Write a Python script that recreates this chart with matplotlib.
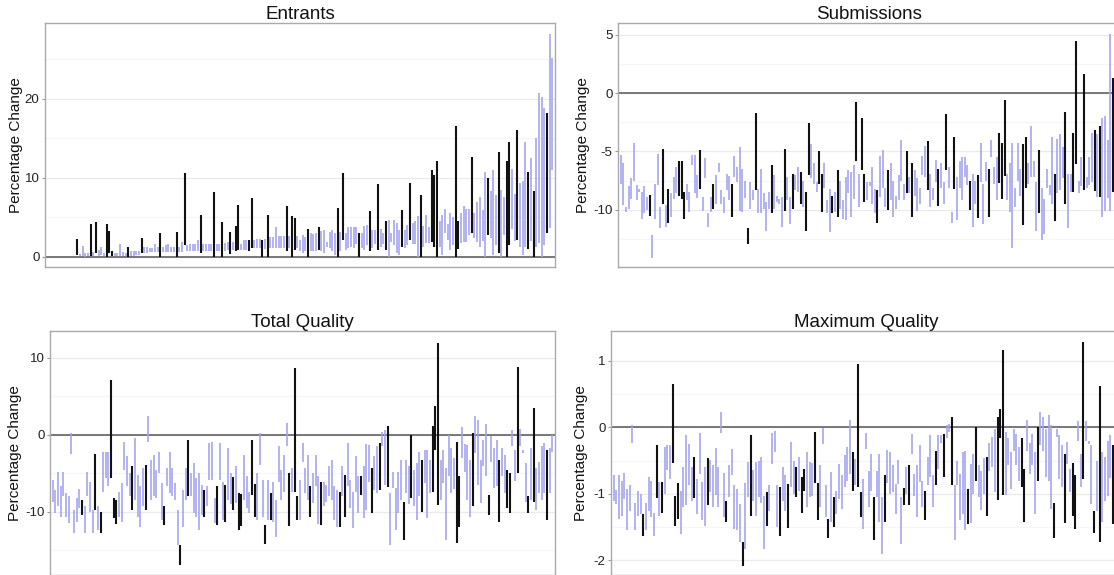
import matplotlib
matplotlib.use("Agg")
import matplotlib.pyplot as plt
from matplotlib.ticker import FixedLocator

plt.rcParams["font.family"] = ["Liberation Sans", "DejaVu Sans"]
plt.rcParams["axes.unicode_minus"] = False

# contests whose change is significant (drawn in black), same order in every panel
highlight = [11, 16, 18, 22, 23, 24, 30, 35, 42, 48, 51, 57, 62, 65, 68, 70, 71, 75, 76,
             80, 82, 89, 91, 92, 97, 101, 108, 110, 116, 120, 123, 126, 132, 135, 139,
             143, 144, 145, 152, 153, 158, 164, 168, 171, 172, 175, 179, 181, 186]

entrants_hi = [0, 0, 0, 0, 0, 0, 0, 0, 0, 0, 0,
               2.3, 0.4, 1.4, 0.5, 0.5, 4.2, 0.6, 4.4, 0.9, 1.3, 0.5, 4.2, 3.3, 0.7, 0.5, 0.5, 1.7, 0.6, 0.5,
               1.2, 0.7, 0.7, 0.8, 0.8, 2.4, 1.3, 1.3, 1.1, 1.1, 1.6, 1.3, 3.0, 1.2, 1.5, 1.7, 1.3, 1.3, 3.1, 1.3,
               1.9, 10.6, 1.5, 1.6, 1.6, 1.6, 2.1, 5.3, 1.6, 1.7, 1.7, 1.7, 8.2, 1.7, 1.7, 4.4, 1.8, 1.9, 3.2, 1.9,
               3.9, 6.6, 1.6, 2.2, 2.2, 2.2, 7.5, 2.2, 2.3, 2.3, 2.2, 2.3, 5.3, 2.5, 2.5, 3.8, 2.7, 2.7, 2.6, 6.4,
               2.7, 5.2, 4.9, 2.7, 2.2, 2.8, 2.5, 3.6, 3.0, 2.9, 3.0, 3.8, 3.3, 3.4, 1.9, 3.1, 3.4, 3.0, 6.2, 3.2,
               10.6, 3.0, 3.8, 3.8, 3.8, 3.8, 3.0, 3.0, 3.9, 4.1, 5.8, 3.4, 3.4, 9.2, 3.6, 3.0, 4.6, 4.7, 3.0, 4.7,
               4.3, 3.4, 6.0, 3.4, 4.0, 9.3, 4.3, 4.5, 5.2, 7.8, 3.9, 5.3, 3.8, 11.0, 10.4, 12.1, 4.6, 5.3, 6.1, 4.2,
               5.6, 5.0, 16.6, 4.6, 5.5, 6.4, 6.1, 6.1, 12.7, 5.5, 7.0, 7.6, 6.0, 10.7, 10.0, 8.3, 11.0, 7.8, 13.3, 8.5,
               7.6, 12.1, 14.5, 11.1, 8.0, 16.1, 9.4, 9.6, 14.5, 10.7, 12.5, 8.4, 15.0, 20.7, 20.2, 18.9, 18.2, 28.2, 25.2]
entrants_lo = [0, 0, 0, 0, 0, 0, 0, 0, 0, 0, 0,
               0.3, 0.1, 0.1, 0.0, 0.1, 0.1, 0.1, 0.5, 0.1, 0.25, 0.1, 0.0, 0.5, 0.1, 0.1, 0.1, 0.1, 0.1, 0.1,
               0.0, 0.1, 0.1, 0.2, 0.2, 0.5, 0.5, 0.5, 0.6, 0.6, 0.6, 0.6, 0.0, 0.6, 0.6, 0.6, 0.6, 0.6, 0.0, 0.6,
               0.6, 1.5, 0.7, 0.7, 0.8, 0.8, 0.8, 0.5, 0.7, 0.7, 0.7, 0.7, 0.0, 0.8, 0.8, 0.0, 0.8, 0.9, 0.4, 0.9,
               0.7, 0.9, 0.9, 0.9, 0.9, 0.7, 1.1, 1.1, 1.1, 1.1, 0.0, 1.0, 0.0, 1.1, 1.1, 1.1, 1.1, 1.1, 1.1, 0.7,
               1.1, 0.0, 0.9, 1.1, 0.7, 0.5, 0.8, 0.0, 0.7, 0.7, 0.7, 0.9, 0.7, 0.5, 1.3, 1.1, 0.7, 0.25, 0.0, 0.8,
               2.2, 0.9, 1.1, 1.3, 1.1, 1.7, 0.0, 1.1, 0.9, 1.5, 0.7, 1.1, 1.7, 0.9, 1.3, 1.7, 0.9, 0.0, 1.9, 1.5,
               0.5, 0.25, 1.3, 1.1, 1.5, 2.1, 1.6, 1.7, 0.0, 0.0, 1.3, 1.8, 1.8, 1.9, 1.3, 0.0, 1.3, 0.3, 3.0, 2.2,
               0.9, 1.5, 0.0, 1.0, 1.8, 1.9, 1.9, 2.8, 3.0, 2.4, 1.9, 1.3, 2.0, 0.0, 2.8, 2.4, 0.3, 1.5, 0.5, 0.0,
               2.8, 0.0, 1.5, 3.5, 2.0, 2.2, 1.3, 0.3, 1.2, 1.0, 2.0, 0.0, 1.3, 1.8, 0.0, 1.5, 3.0, 3.7, 11.0]

submissions_hi = [-5.3, -6.0, -9.8, -8.0, -7.3, -4.3, -7.9, -8.2, -8.5, -8.0, -8.9, -8.7, -12.2, -7.8, -5.2, -9.8,
                  -4.8, -9.6, -8.2, -8.6, -7.2, -6.3, -5.8, -5.8, -8.5, -7.8, -8.5, -5.3, -5.3, -7.0, -4.9, -8.9,
                  -5.6, -10.3, -8.9, -7.8, -7.0, -6.0, -8.3, -8.9, -6.9, -7.1, -7.8, -5.4, -6.3, -4.6, -6.5, -7.5,
                  -11.6, -7.6, -8.3, -1.7, -8.2, -6.5, -8.6, -9.3, -8.5, -6.2, -7.0, -8.8, -9.1, -8.9, -4.8, -7.2,
                  -8.9, -6.9, -7.0, -6.3, -6.8, -7.5, -8.5, -2.6, -4.4, -6.0, -7.6, -5.0, -6.9, -6.0, -9.2, -8.2,
                  -8.8, -8.5, -6.6, -7.5, -9.2, -7.2, -6.6, -6.8, -6.2, -0.8, -6.9, -2.1, -6.9, -7.6, -7.6, -6.3,
                  -8.2, -8.3, -5.4, -4.9, -8.1, -6.6, -6.0, -7.5, -8.8, -7.0, -4.0, -7.8, -5.0, -7.2, -6.0, -6.6,
                  -7.3, -8.1, -5.4, -4.5, -4.1, -6.9, -8.1, -5.7, -6.5, -6.0, -7.6, -1.8, -6.3, -10.2, -3.8, -7.2,
                  -5.8, -5.5, -5.5, -6.2, -7.5, -6.9, -7.5, -7.0, -4.3, -7.8, -5.9, -6.5, -4.0, -6.3, -5.5, -3.4,
                  -4.3, -0.6, -6.9, -6.0, -4.3, -8.1, -4.3, -6.5, -4.4, -3.8, -6.0, -2.8, -5.8, -7.6, -4.9, -8.1,
                  -9.1, -6.5, -7.9, -3.8, -6.9, -3.9, -3.5, -4.6, -1.6, -6.9, -6.9, -3.4, 4.5, -7.5, -5.5, 1.6,
                  -7.2, -5.5, -3.4, -3.2, -3.5, -2.8, -2.1, -2.0, -4.0, 5.1, 1.3, -3.0, -4.0]
submissions_lo = [-7.8, -9.6, -10.2, -9.9, -9.1, -7.5, -9.2, -8.5, -10.8, -10.3, -10.0, -10.5, -14.1, -10.8, -7.9, -11.6,
                  -9.5, -11.5, -11.1, -10.6, -9.1, -8.6, -8.8, -9.1, -10.8, -9.2, -10.2, -6.2, -8.6, -9.0, -8.2, -10.1,
                  -7.3, -11.5, -10.2, -9.9, -9.5, -6.8, -9.5, -10.3, -8.3, -9.2, -10.6, -7.2, -7.6, -10.1, -10.2, -9.0,
                  -12.9, -9.9, -9.2, -8.3, -10.3, -10.3, -9.9, -11.8, -9.9, -10.3, -9.9, -9.3, -9.5, -11.5, -10.1, -9.2,
                  -11.2, -9.9, -8.3, -8.5, -9.5, -9.8, -11.8, -7.0, -7.3, -7.8, -8.5, -7.8, -10.2, -8.1, -10.3, -11.9,
                  -10.3, -10.2, -10.6, -9.9, -10.8, -10.9, -8.6, -10.6, -9.1, -5.8, -9.8, -6.6, -9.3, -9.2, -8.0, -9.5,
                  -10.3, -11.1, -8.9, -8.1, -9.8, -10.0, -9.2, -10.6, -9.9, -9.2, -7.5, -9.2, -8.6, -8.6, -10.6, -8.8,
                  -10.1, -9.5, -7.0, -7.2, -8.3, -9.8, -9.2, -7.6, -9.7, -8.1, -9.5, -6.6, -8.1, -11.1, -8.2, -10.9,
                  -8.1, -9.2, -7.2, -7.9, -10.0, -11.5, -9.5, -10.7, -7.6, -11.2, -7.5, -10.6, -5.5, -7.8, -9.2, -7.7,
                  -9.1, -7.1, -9.2, -10.2, -13.3, -9.8, -7.5, -8.8, -11.3, -8.1, -7.8, -7.2, -7.2, -11.8, -10.3, -12.6,
                  -12.1, -8.1, -8.7, -9.5, -11.0, -8.6, -8.3, -7.3, -9.5, -11.6, -8.5, -8.5, -6.1, -8.6, -8.0, -8.3,
                  -8.1, -7.9, -7.6, -8.4, -8.9, -8.9, -10.6, -10.1, -9.0, -10.1, -8.5, -9.0, -8.0]

total_hi = [-5.8, -7.2, -4.8, -6.7, -4.8, -7.5, -7.9, 0.3, -9.7, -8.2, -7.0, -8.4, -9.3, -4.8, -6.1, -9.7,
            -2.5, -9.2, -10.0, -2.2, -2.2, -2.2, 7.1, -8.2, -8.4, -7.4, -6.3, -0.9, -2.8, -5.0, -4.1, -0.4,
            -5.2, -6.7, -4.3, -3.9, 2.4, -3.2, -2.6, -4.5, -2.2, -6.3, -9.3, -4.3, -2.2, -4.3, -6.2, -9.7,
            -14.3, -7.1, -4.3, -0.6, -5.0, -3.7, -5.6, -5.0, -6.5, -7.2, -6.7, -1.1, -0.9, -8.2, -6.6, -1.1,
            -6.1, -6.5, -1.7, -5.0, -5.5, -4.1, -7.5, -7.7, -2.6, -5.4, -7.4, -0.7, -6.4, -5.0, 0.2, -5.8,
            -11.7, -5.8, -7.6, -6.1, -8.4, -1.4, -4.5, -2.6, 1.5, -4.9, -4.3, 8.7, -8.0, -5.8, -1.1, -4.3,
            -2.6, -6.7, -5.0, -2.6, -5.4, -6.1, -6.1, -6.5, -4.1, -3.3, -6.7, -7.1, -7.4, -4.0, -5.2, -1.0,
            -5.8, -7.4, -2.8, -5.4, -5.4, -4.1, -1.2, -1.3, -4.3, -2.8, -1.5, -1.0, 0.4, 0.7, 1.2, -7.5,
            -4.8, -6.9, -4.8, -3.2, -8.7, -3.2, -4.0, 0.0, -4.5, -3.7, -2.2, -3.2, -1.9, -1.9, -3.2, 1.1,
            3.8, 12.0, -3.2, -1.9, -4.3, 0.0, -1.7, -3.0, -0.9, -5.4, 1.0, -1.2, -1.3, -3.2, 0.2, 2.4,
            1.9, -3.3, -0.6, 1.4, -7.8, -0.2, -1.7, -0.6, -3.2, -1.7, -2.6, -4.6, -5.0, 0.7, -2.0, 8.8,
            0.8, -1.9, -3.7, -8.0, -1.7, 3.5, -4.3, -3.5, -1.5, -1.0, -1.9, -1.7, 0.0]
total_lo = [-8.7, -10.2, -9.3, -10.7, -8.0, -10.6, -11.4, -2.5, -12.8, -11.3, -9.5, -10.4, -12.7, -8.0, -10.0, -12.7,
            -9.7, -12.3, -12.8, -7.4, -5.6, -6.7, -5.6, -10.8, -11.6, -10.6, -11.3, -4.5, -6.7, -8.0, -9.8, -8.4,
            -10.6, -11.9, -9.3, -9.7, -0.9, -8.4, -8.0, -8.2, -5.0, -11.0, -11.7, -6.7, -7.6, -8.0, -8.4, -14.3,
            -16.9, -11.9, -8.4, -7.9, -8.0, -10.2, -10.6, -12.3, -10.4, -10.7, -9.3, -5.8, -5.8, -11.5, -11.7, -5.8,
            -11.0, -11.3, -8.4, -9.0, -9.7, -8.9, -12.3, -11.8, -8.4, -9.5, -10.2, -7.8, -10.7, -11.0, -3.9, -10.6,
            -14.2, -11.0, -11.0, -11.3, -13.3, -6.1, -8.4, -7.4, -1.5, -11.8, -7.4, -7.4, -11.0, -11.0, -3.5, -7.6,
            -8.4, -10.6, -8.9, -6.7, -11.6, -11.7, -9.3, -8.7, -8.0, -8.4, -11.0, -11.9, -11.9, -8.0, -10.6, -6.7,
            -9.5, -12.1, -7.4, -10.2, -7.8, -10.8, -9.7, -6.1, -10.2, -7.1, -7.6, -7.1, -1.5, -6.5, -6.8, -14.3,
            -6.9, -12.3, -10.2, -8.4, -13.6, -7.6, -9.0, -8.2, -9.3, -11.0, -8.0, -10.0, -6.3, -10.8, -7.6, -7.4,
            -1.9, -9.1, -8.4, -6.3, -13.6, -5.4, -7.6, -7.0, -14.0, -11.9, -3.0, -4.8, -8.4, -10.6, -9.3, -2.4,
            -6.5, -8.9, -4.1, -5.4, -10.4, -3.5, -6.9, -6.7, -11.3, -5.4, -7.6, -9.5, -10.2, -1.5, -6.0, -4.9,
            -1.5, -2.4, -8.7, -10.2, -8.4, -8.7, -9.7, -7.5, -8.4, -7.6, -11.0, -7.6, -2.2]

maximum_hi = [-0.72, -0.94, -0.71, -0.81, -0.69, -0.92, -0.87, 0.03, -1.14, -0.96, -1.00, -1.30, -1.13, -0.74,
              -0.80, -1.28, -0.26, -0.82, -0.82, -0.29, -0.26, -0.27, 0.65, -1.03, -0.84, -0.95, -0.59, -0.12,
              -0.25, -0.60, -0.44, -0.77, -0.09, -0.82, -0.60, -0.46, -0.49, -0.57, -0.31, -0.60, 0.23, -0.69,
              -1.10, -0.57, -0.32, -0.87, -0.92, -1.15, -1.73, -0.84, -0.52, -0.12, -0.64, -0.52, -0.50, -0.44,
              -1.03, -0.97, -0.87, -0.09, -0.06, -0.87, -0.90, -0.60, -0.72, -0.85, -0.22, -0.50, -0.59, -0.45,
              -0.75, -0.62, -0.37, -0.52, -0.54, -0.07, -0.84, -0.57, -0.01, -0.87, -1.38, -0.67, -1.04, -0.96,
              -0.55, -0.71, -0.42, -0.30, 0.11, -0.37, -0.47, 0.96, -0.97, -0.77, -0.09, -0.65, -0.40, -1.05,
              -0.65, -0.40, -1.05, -0.72, -0.34, -0.37, -0.57, -0.85, -0.49, -1.04, -0.91, -0.60, -0.57, -0.10,
              -0.70, -0.56, -0.27, -0.80, -0.95, -0.45, -0.12, -0.71, -0.36, -0.12, -0.11, -0.10, 0.03, 0.05,
              0.15, -0.87, -0.51, -0.70, -0.37, -0.36, -0.92, -0.55, -0.40, 0.00, -0.57, -0.66, -0.46, -0.44,
              -0.24, -0.14, -0.02, 0.15, 0.28, 1.17, -0.07, -0.16, -0.37, -0.02, -0.10, -0.30, -0.16, -0.62,
              0.11, -0.24, -0.10, -0.37, 0.00, 0.23, 0.15, -0.02, 0.18, 0.03, -1.14, -0.02, -0.12, -0.27,
              -0.40, -0.22, -0.62, -0.54, -0.72, 0.10, -0.40, 1.29, 0.10, -0.20, -0.27, -1.25, -0.50, 0.63,
              -0.37, -0.45, -0.20, -0.12, -0.26, -0.30, -0.50]
maximum_lo = [-1.10, -1.15, -1.38, -1.33, -1.08, -1.55, -1.25, -0.24, -1.55, -1.33, -1.30, -1.63, -1.55, -1.25,
              -1.35, -1.63, -1.06, -1.33, -1.28, -1.00, -0.64, -0.77, -0.54, -1.49, -1.38, -1.60, -1.19, -1.16,
              -0.87, -1.10, -1.06, -1.30, -0.70, -1.40, -1.48, -1.16, -0.97, -1.20, -1.01, -1.19, -0.09, -1.35,
              -1.43, -1.05, -0.72, -1.53, -1.55, -1.73, -2.08, -1.83, -1.05, -1.33, -1.10, -1.33, -1.05, -1.14,
              -1.83, -1.48, -1.25, -0.55, -0.37, -1.50, -1.63, -1.10, -1.26, -1.51, -0.90, -1.00, -1.05, -0.95,
              -1.29, -0.96, -1.20, -1.05, -1.03, -0.84, -1.40, -1.20, -0.25, -1.35, -1.66, -1.43, -1.50, -1.30,
              -1.08, -1.23, -0.89, -0.80, -0.70, -0.95, -0.87, -0.90, -1.35, -1.53, -0.32, -1.20, -0.95, -1.69,
              -1.05, -1.43, -1.90, -1.43, -0.84, -1.00, -0.97, -1.30, -0.85, -1.75, -1.16, -1.00, -1.16, -0.40,
              -1.03, -1.35, -0.82, -1.20, -1.39, -0.87, -0.75, -1.20, -0.87, -0.62, -0.24, -0.75, -0.16, -0.07,
              -0.86, -1.70, -0.87, -1.40, -1.30, -1.55, -1.45, -1.44, -1.00, -0.81, -1.05, -1.24, -1.00, -1.33,
              -0.65, -0.60, -0.97, -1.09, -0.16, -1.01, -1.01, -0.56, -0.92, -0.35, -0.57, -0.80, -0.90, -1.43,
              -0.35, -0.70, -0.57, -1.31, -0.81, -0.27, -0.35, -0.75, -0.80, -1.23, -1.66, -0.15, -0.77, -0.90,
              -1.44, -0.55, -0.97, -1.33, -1.53, -0.20, -0.90, -0.77, -0.20, -0.25, -1.15, -1.59, -1.25, -1.73,
              -1.43, -1.10, -1.03, -0.76, -1.46, -1.00, -1.20]

BLUE = "#a2a2ef"
W, H = 1114, 575


def pixel_box(left, top, width, height):
    return [left / W, 1 - (top + height) / H, width / W, height / H]


def draw_panel(ax, title, lo, hi, ticks, minor, ylim, label_x):
    n = len(hi)
    xs = list(range(n))
    blue_x = [i for i in xs if i not in highlight]
    ax.vlines(blue_x, [lo[i] for i in blue_x], [hi[i] for i in blue_x],
              colors=BLUE, linewidth=1.15, zorder=3)
    ax.vlines(highlight, [lo[i] for i in highlight], [hi[i] for i in highlight],
              colors="#111111", linewidth=1.5, zorder=4)
    ax.axhline(0, color="#555555", linewidth=1.1, zorder=2)

    ax.set_xlim(-1, n)
    ax.set_ylim(*ylim)
    ax.set_xticks([])
    ax.yaxis.set_major_locator(FixedLocator(ticks))
    ax.yaxis.set_minor_locator(FixedLocator(minor))
    ax.grid(which="major", axis="y", color="#ebebeb", linewidth=1.0, zorder=0)
    ax.grid(which="minor", axis="y", color="#f6f6f6", linewidth=1.0, zorder=0)
    ax.set_axisbelow(True)
    ax.tick_params(axis="y", which="major", labelsize=9.5, length=2.5, pad=1.5,
                   color="#999999", labelcolor="#222222")
    ax.tick_params(axis="y", which="minor", length=0)
    for spine in ax.spines.values():
        spine.set_color("#aaaaaa")
        spine.set_linewidth(1.0)
    ax.set_title(title, fontsize=13.5, pad=3, color="#111111")
    ax.set_ylabel("Percentage Change", fontsize=11, color="#111111")
    # anchor is the right edge of the rotated label
    ax.yaxis.set_label_coords(label_x, 0.5)


fig = plt.figure(figsize=(W / 100, H / 100), dpi=100)

ax1 = fig.add_axes(pixel_box(45, 23, 510, 244))
draw_panel(ax1, "Entrants", entrants_lo, entrants_hi, [0, 10, 20], [5, 15, 25],
           (-1.27, 29.6), -0.043)

ax2 = fig.add_axes(pixel_box(618, 23, 503, 244))
draw_panel(ax2, "Submissions", submissions_lo, submissions_hi, [-10, -5, 0, 5],
           [-12.5, -7.5, -2.5, 2.5], (-14.9, 6.0), -0.055)

ax3 = fig.add_axes(pixel_box(50, 331, 505, 244))
draw_panel(ax3, "Total Quality", total_lo, total_hi, [-10, 0, 10], [-15, -5, 5],
           (-18.2, 13.5), -0.056)

ax4 = fig.add_axes(pixel_box(611, 331, 510, 244))
draw_panel(ax4, "Maximum Quality", maximum_lo, maximum_hi, [-2, -1, 0, 1],
           [-1.5, -0.5, 0.5], (-2.22, 1.45), -0.045)

fig.savefig("out.png", dpi=100)
